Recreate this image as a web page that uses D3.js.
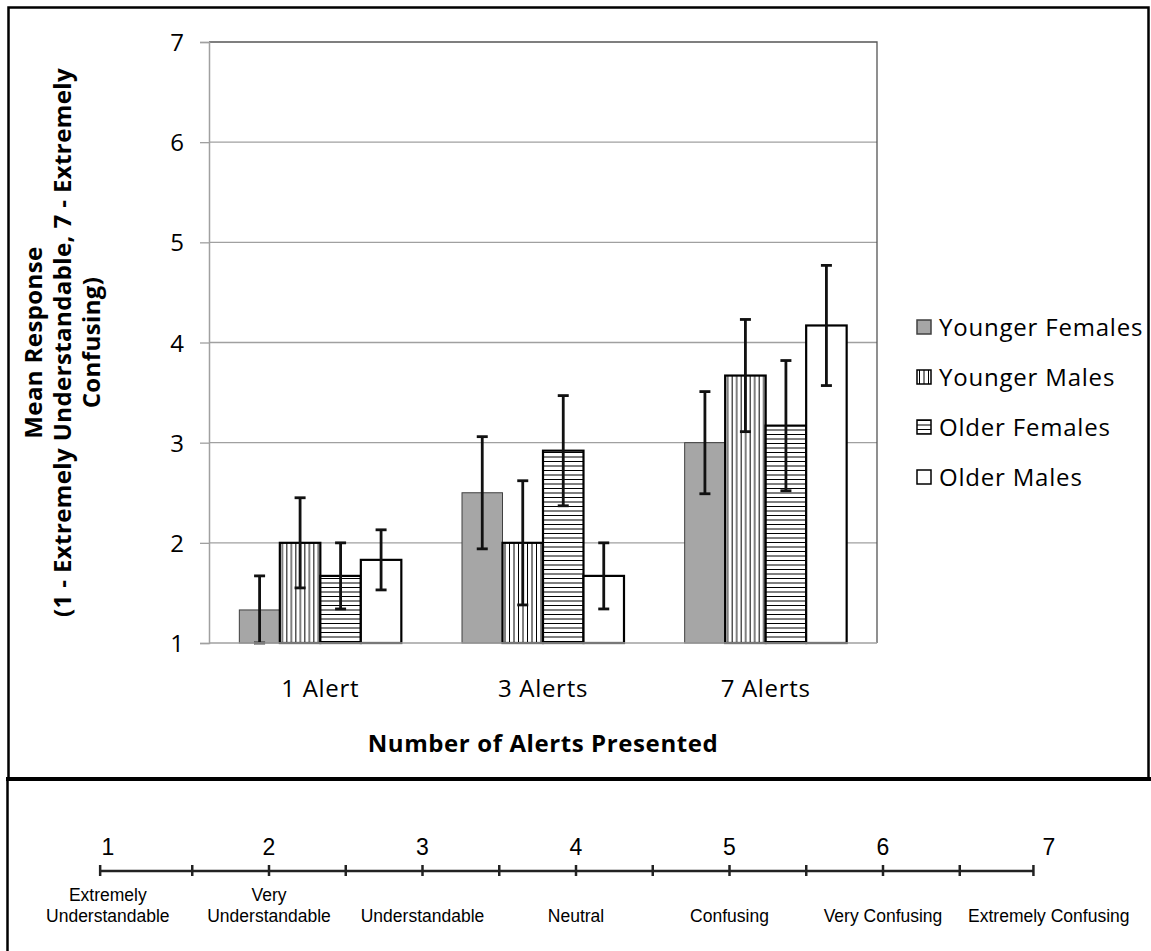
<!DOCTYPE html>
<html>
<head>
<meta charset="utf-8">
<script src="https://cdn.jsdelivr.net/npm/d3@7"></script>
<style>
  html, body { margin: 0; padding: 0; background: #fff; }
  svg { display: block; }
  .chart-text { font-family: "Open Sans", "Noto Sans", sans-serif; fill: #000; }
  .scale-text { font-family: "Liberation Sans", Arial, sans-serif; fill: #000; }
</style>
</head>
<body>
<svg id="chart" width="1151" height="951"></svg>
<script>
// Alert conditions on the x axis
const categories = ["1 Alert", "3 Alerts", "7 Alerts"];
// Participant groups
const seriesNames = ["Younger Females", "Younger Males", "Older Females", "Older Males"];
// Mean ratings per group, one value per alert condition
const youngerFemales = [1.33, 2.50, 3.00];
const youngerMales   = [2.00, 2.00, 3.67];
const olderFemales   = [1.67, 2.92, 3.17];
const olderMales     = [1.83, 1.67, 4.17];
// Error bar half-lengths (same order)
const youngerFemalesErr = [0.34, 0.56, 0.51];
const youngerMalesErr   = [0.45, 0.62, 0.56];
const olderFemalesErr   = [0.33, 0.55, 0.65];
const olderMalesErr     = [0.30, 0.33, 0.60];
// Y axis ticks
const yTicks = [1, 2, 3, 4, 5, 6, 7];
// Response scale shown beneath the chart
const scalePoints = [1, 2, 3, 4, 5, 6, 7];
const scaleLabels = [
  ["Extremely", "Understandable"],
  ["Very", "Understandable"],
  ["Understandable"],
  ["Neutral"],
  ["Confusing"],
  ["Very Confusing"],
  ["Extremely Confusing"]
];

const seriesValues = [youngerFemales, youngerMales, olderFemales, olderMales];
const seriesErrors = [youngerFemalesErr, youngerMalesErr, olderFemalesErr, olderMalesErr];

const svg = d3.select("#chart");
const defs = svg.append("defs");

// Fill patterns for the groups
const vPat = defs.append("pattern").attr("id", "vstripes")
  .attr("patternUnits", "userSpaceOnUse").attr("width", 9).attr("height", 9);
vPat.append("rect").attr("width", 9).attr("height", 9).attr("fill", "#fff");
vPat.append("line").attr("x1", 2.5).attr("x2", 2.5).attr("y1", 0).attr("y2", 9).attr("stroke", "#000").attr("stroke-width", 1);
vPat.append("line").attr("x1", 7).attr("x2", 7).attr("y1", 0).attr("y2", 9).attr("stroke", "#000").attr("stroke-width", 1);

const hPat = defs.append("pattern").attr("id", "hstripes")
  .attr("patternUnits", "userSpaceOnUse").attr("width", 9).attr("height", 9);
hPat.append("rect").attr("width", 9).attr("height", 9).attr("fill", "#fff");
hPat.append("line").attr("y1", 2.5).attr("y2", 2.5).attr("x1", 0).attr("x2", 9).attr("stroke", "#000").attr("stroke-width", 1);
hPat.append("line").attr("y1", 7).attr("y2", 7).attr("x1", 0).attr("x2", 9).attr("stroke", "#000").attr("stroke-width", 1);

const seriesStyle = [
  { fill: "#a6a6a6", stroke: "#404040", sw: 1 },
  { fill: "url(#vstripes)", stroke: "#000", sw: 2.2 },
  { fill: "url(#hstripes)", stroke: "#000", sw: 2.2 },
  { fill: "#fff", stroke: "#000", sw: 2.2 }
];

// Outer frames
svg.append("rect").attr("x", 8.5).attr("y", 7.5).attr("width", 1140).attr("height", 771)
  .attr("fill", "none").attr("stroke", "#000").attr("stroke-width", 2.5);
svg.append("line").attr("x1", 7.5).attr("x2", 7.5).attr("y1", 779).attr("y2", 951)
  .attr("stroke", "#000").attr("stroke-width", 2.5);
svg.append("line").attr("x1", 6).attr("x2", 1151).attr("y1", 779).attr("y2", 779)
  .attr("stroke", "#000").attr("stroke-width", 4);

// Plot area
const plot = { left: 209, right: 877, top: 42, bottom: 643 };

const y = d3.scaleLinear().domain([1, 7]).range([plot.bottom, plot.top]);
const x0 = d3.scaleBand().domain(categories).range([plot.left, plot.right])
  .paddingInner(0.2725).paddingOuter(0.13625);
const x1 = d3.scaleBand().domain(seriesNames).range([0, x0.bandwidth()]);

// Gridlines
svg.append("g").selectAll("line").data(yTicks.slice(1, -1)).join("line")
  .attr("x1", plot.left).attr("x2", plot.right)
  .attr("y1", d => y(d)).attr("y2", d => y(d))
  .attr("stroke", "#a0a0a0").attr("stroke-width", 1.3);

// Plot border (top / right)
svg.append("path")
  .attr("d", `M${plot.left},${y(7)}H${plot.right}V${plot.bottom}`)
  .attr("fill", "none").attr("stroke", "#555").attr("stroke-width", 1.3);

// Y axis
const yAxis = svg.append("g").attr("transform", `translate(${plot.left},0)`)
  .call(d3.axisLeft(y).tickValues(yTicks).tickSize(9).tickPadding(16).tickFormat(d3.format("d")));
yAxis.select(".domain").attr("stroke", "#a0a0a0").attr("stroke-width", 1.5);
yAxis.selectAll(".tick line").attr("stroke", "#a0a0a0").attr("stroke-width", 1.3);
yAxis.selectAll(".tick text").attr("class", "chart-text")
  .style("font-size", "24px").attr("fill", "#222").attr("dy", "0.36em");

// Bars
const groups = svg.append("g").selectAll("g").data(categories).join("g")
  .attr("transform", c => `translate(${x0(c)},0)`);

groups.each(function (c, ci) {
  const g = d3.select(this);
  seriesNames.forEach((s, si) => {
    const v = seriesValues[si][ci];
    const st = seriesStyle[si];
    g.append("rect")
      .attr("x", x1(s)).attr("width", x1.bandwidth())
      .attr("y", y(v)).attr("height", y(1) - y(v))
      .attr("fill", st.fill).attr("stroke", st.stroke).attr("stroke-width", st.sw);
  });
});

// Error bars
groups.each(function (c, ci) {
  const g = d3.select(this);
  seriesNames.forEach((s, si) => {
    const v = seriesValues[si][ci];
    const e = seriesErrors[si][ci];
    const cx = x1(s) + x1.bandwidth() / 2;
    const lo = Math.max(1, v - e), hi = v + e;
    const eb = g.append("g").attr("stroke", "#111").attr("stroke-width", 2.8);
    eb.append("line").attr("x1", cx).attr("x2", cx).attr("y1", y(lo)).attr("y2", y(hi));
    eb.append("line").attr("x1", cx - 5.5).attr("x2", cx + 5.5).attr("y1", y(hi)).attr("y2", y(hi));
    eb.append("line").attr("x1", cx - 5.5).attr("x2", cx + 5.5).attr("y1", y(lo)).attr("y2", y(lo));
  });
});

// X axis baseline
svg.append("line").attr("x1", plot.left).attr("x2", plot.right)
  .attr("y1", plot.bottom).attr("y2", plot.bottom)
  .attr("stroke", "#a0a0a0").attr("stroke-width", 1.5);

// Category labels
svg.append("g").selectAll("text").data(categories).join("text")
  .attr("class", "chart-text")
  .attr("x", c => x0(c) + x0.bandwidth() / 2).attr("y", 697)
  .attr("text-anchor", "middle").style("font-size", "24px").style("letter-spacing", "0.7px")
  .attr("fill", "#222")
  .text(c => c);

// Axis titles
svg.append("text").attr("class", "chart-text")
  .attr("x", (plot.left + plot.right) / 2).attr("y", 752)
  .attr("text-anchor", "middle").style("font-size", "24px").style("font-weight", "bold")
  .style("letter-spacing", "0.6px")
  .text("Number of Alerts Presented");

const yTitleLines = ["Mean Response", "(1 - Extremely Understandable, 7 - Extremely", "Confusing)"];
svg.append("g").selectAll("text").data(yTitleLines).join("text")
  .attr("class", "chart-text")
  .attr("transform", (d, i) => `translate(${42 + i * 29},${(plot.top + plot.bottom) / 2}) rotate(-90)`)
  .attr("text-anchor", "middle").style("font-size", "24px").style("font-weight", "bold")
  .style("letter-spacing", "0.4px")
  .text(d => d);

// Legend
const legend = svg.append("g").attr("transform", "translate(917,327)");
const li = legend.selectAll("g").data(seriesNames).join("g")
  .attr("transform", (d, i) => `translate(0,${i * 50})`);
li.append("rect").attr("x", 0).attr("y", -7).attr("width", 14).attr("height", 14)
  .attr("fill", (d, i) => seriesStyle[i].fill)
  .attr("stroke", (d, i) => seriesStyle[i].stroke).attr("stroke-width", 1.5);
li.append("text").attr("class", "chart-text")
  .attr("x", 22).attr("y", 0).attr("dy", "0.36em")
  .style("font-size", "24px").style("letter-spacing", "0.8px").attr("fill", "#222")
  .text(d => d);

// Response scale beneath the chart
const sx = d3.scaleLinear().domain([2, 6]).range([269, 883]);
const scaleY = 871;
const sg = svg.append("g");
sg.append("line").attr("x1", sx(0.9)).attr("x2", sx(6.98)).attr("y1", scaleY).attr("y2", scaleY)
  .attr("stroke", "#222").attr("stroke-width", 2.5);
const tickPos = [0.9, 1.5, 2, 2.5, 3, 3.5, 4, 4.5, 5, 5.5, 6, 6.5, 6.98];
sg.selectAll("line.t").data(tickPos).join("line").attr("class", "t")
  .attr("x1", d => sx(d)).attr("x2", d => sx(d))
  .attr("y1", scaleY - 6).attr("y2", scaleY + 5)
  .attr("stroke", "#222").attr("stroke-width", 2.5);

// Label placement: end points sit slightly outside the line
const labelPos = v => v === 1 ? sx(0.95) : v === 7 ? sx(7.08) : sx(v);
sg.selectAll("text.num").data(scalePoints).join("text").attr("class", "num scale-text")
  .attr("x", d => labelPos(d)).attr("y", 855).attr("text-anchor", "middle")
  .style("font-size", "23px").text(d => d);

scalePoints.forEach((p, i) => {
  const lines = scaleLabels[i];
  const t = sg.append("text").attr("class", "scale-text")
    .attr("text-anchor", "middle").style("font-size", "17.5px").attr("fill", "#111");
  lines.forEach((ln, k) => {
    t.append("tspan").attr("x", labelPos(p))
      .attr("y", 922 - (lines.length - 1 - k) * 21).text(ln);
  });
});
</script>
</body>
</html>
